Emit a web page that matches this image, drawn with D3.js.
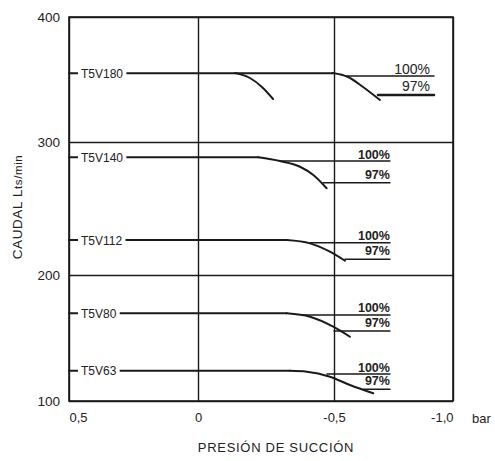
<!DOCTYPE html>
<html><head><meta charset="utf-8">
<script src="https://cdn.jsdelivr.net/npm/d3@7"></script>
<style>body{margin:0;background:#fff}svg{display:block}text{font-family:"Liberation Sans",Arial,sans-serif;fill:#222}</style>
</head><body><svg id="c" width="495" height="461"></svg>
<script>
// ---- data ----
const xTicks = [0.5, 0, -0.5, -1.0];
const xTickLabels = ["0,5", "0", "-0,5", "-1,0"];
const yTicks = [100, 200, 300, 400];
const yTickLabels = ["100", "200", "300", "400"];
const models = ["T5V180", "T5V140", "T5V112", "T5V80", "T5V63"];
const nominalFlow = [355, 288.5, 226.3, 169.6, 124];
// performance curves [pressure bar, flow l/min]
const curve180a = [[-0.136,355.2],[-0.191,351.2],[-0.235,344],[-0.276,334.4]];
const curve180b = [[-0.496,355.2],[-0.559,352],[-0.622,344],[-0.693,333.6]];
const curve140 = [[-0.222,288.5],[-0.301,285.7],[-0.375,281.4],[-0.424,275.2],[-0.473,265.2]];
const curve112 = [[-0.326,226.3],[-0.412,223.8],[-0.485,217.5],[-0.546,210.7]];
const curve80 = [[-0.326,169.6],[-0.412,166.9],[-0.497,159],[-0.567,151]];
const curve63 = [[-0.338,124],[-0.4,123.3],[-0.485,119.3],[-0.567,112.7],[-0.665,106.1]];
// speed reference lines: [flow, startPressure, endPressure]
const ref100 = [[352.8,-0.555,-0.92],[285.7,-0.301,-0.735],[224.3,-0.412,-0.735],[168.3,-0.386,-0.735],[121.4,-0.474,-0.735]];
const ref97 = [[337.6,-0.685,-0.92],[269.4,-0.46,-0.735],[211.8,-0.546,-0.735],[155.6,-0.5,-0.735],[109.3,-0.624,-0.735]];
const refLabels = ["100%", "97%"];

// ---- layout ----
const svg = d3.select("#c");
const L = 69, R = 453, T = 17, B = 401;
const x = d3.scaleLinear().domain(xTicks).range([L, 198, 334, R]);
const y = d3.scaleLinear().domain(yTicks).range([B, 275, 142, T]);
const ink = "#1a1a1a";

// grid + ticks via axes
const gx = svg.append("g").attr("transform", `translate(0,${B})`)
  .call(d3.axisBottom(x).tickValues(xTicks).tickSize(-(B - T)).tickPadding(12)
    .tickFormat((d, i) => xTickLabels[i]));
gx.select(".domain").remove();
gx.selectAll("line").attr("stroke", ink).attr("stroke-width", 1.4);
gx.selectAll("text").attr("font-size", 13).attr("fill", "#222")
  .attr("text-anchor", (d, i) => i === 0 ? "start" : (i === xTicks.length - 1 ? "end" : "middle"));

const gy = svg.append("g").attr("transform", `translate(${L},0)`)
  .call(d3.axisLeft(y).tickValues(yTicks).tickSize(-(R - L)).tickPadding(9)
    .tickFormat((d, i) => yTickLabels[i]));
gy.select(".domain").remove();
gy.selectAll("line").attr("stroke", ink).attr("stroke-width", 1.4);
gy.selectAll("text").attr("font-size", 13.5).attr("fill", "#222");

svg.append("rect").attr("x", L).attr("y", T).attr("width", R - L).attr("height", B - T)
  .attr("fill", "none").attr("stroke", ink).attr("stroke-width", 1.6);

svg.append("text").attr("x", 472).attr("y", B + 22).attr("font-size", 13).text("bar");

// axis titles
svg.append("text").attr("x", 276).attr("y", 452).attr("text-anchor", "middle")
  .attr("font-size", 13).attr("letter-spacing", 0.7).text("PRESIÓN DE SUCCIÓN");
const yt = svg.append("text").attr("transform", "translate(22,207) rotate(-90)")
  .attr("text-anchor", "middle").attr("font-size", 13.5).attr("letter-spacing", 0.6);
yt.append("tspan").text("CAUDAL L");
yt.append("tspan").attr("font-size", 11.5).text("ts/min");

// curves
const line = d3.line().x(d => x(d[0])).y(d => y(d[1])).curve(d3.curveMonotoneX);
const curves = [[curve180a, curve180b], [curve140], [curve112], [curve80], [curve63]];
const pts = svg.append("g").attr("fill", "none").attr("stroke", ink).attr("stroke-linecap", "round");
const labs = svg.append("g");

models.forEach((m, i) => {
  const cs = curves[i];
  const flatEnd = cs[cs.length - 1][0][0];
  pts.append("line").attr("x1", x(0.5)).attr("x2", x(flatEnd))
    .attr("y1", y(nominalFlow[i])).attr("y2", y(nominalFlow[i])).attr("stroke-width", 1.9);
  cs.forEach(c => pts.append("path").attr("d", line(c)).attr("stroke-width", 2));
  // model label with white gap
  const ty = y(nominalFlow[i]);
  const g = labs.append("g");
  const t = g.append("text").attr("x", x(0.5) + 12).attr("y", ty + 4.5)
    .attr("font-size", 12).attr("fill", "#222").text(m);
  const bb = t.node().getBBox();
  g.insert("rect", "text").attr("x", bb.x - 3).attr("y", ty - 3)
    .attr("width", bb.width + 6).attr("height", 6).attr("fill", "#fff");

  // reference lines + labels
  [ref100, ref97].forEach((ref, k) => {
    const r = ref[i];
    const big = i === 0;
    pts.append("line").attr("x1", x(r[1])).attr("x2", x(r[2]))
      .attr("y1", y(r[0])).attr("y2", y(r[0]))
      .attr("stroke-width", big && k === 1 ? 2.6 : 1.5);
    labs.append("text").attr("x", x(r[2]) - (big ? 4 : 0)).attr("y", y(r[0]) - (k === 0 ? 2.5 : 4))
      .attr("text-anchor", "end").attr("font-size", big ? 14 : 12.5)
      .attr("font-weight", big ? "normal" : "bold")
      .attr("fill", "#222").text(refLabels[k]);
  });
});
</script></body></html>
